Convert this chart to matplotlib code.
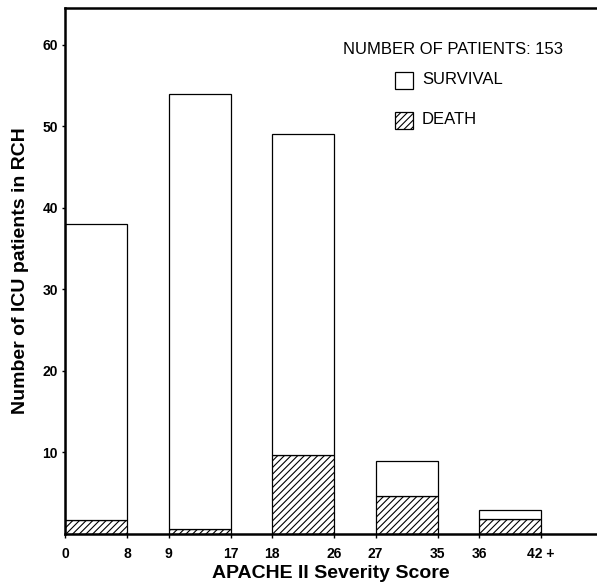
import matplotlib.pyplot as plt
import matplotlib.patches as mpatches

plt.rcParams['font.family'] = ['Liberation Sans', 'DejaVu Sans']
plt.rcParams['hatch.linewidth'] = 0.8

# Data
score_bins = ['0-8', '9-17', '18-26', '27-35', '36-42+']
edge_labels = ['0', '8', '9', '17', '18', '26', '27', '35', '36', '42 +']
total = [38, 54, 49, 9, 3]
death = [1.7, 0.6, 9.7, 4.7, 1.8]
survival = [t - d for t, d in zip(total, death)]
y_ticks = [10, 20, 30, 40, 50, 60]

fig = plt.figure(figsize=(5.97, 5.86), dpi=100)
ax = fig.add_axes([65 / 597, 1 - 534 / 586, 1 - 65 / 597, (534 - 8) / 586])

x = list(range(len(score_bins)))
w = 0.6
ax.bar(x, death, width=w, color='white', edgecolor='black', hatch='/////', linewidth=0.9)
ax.bar(x, survival, width=w, bottom=death, color='white', edgecolor='black', linewidth=0.9)

ax.set_xlim(-0.3, -0.3 + 532 / 103.5)
ax.set_ylim(0, 64.5)

# ticks at the edges of each bar
edges = []
for i in x:
    edges += [i - w / 2, i + w / 2]
ax.set_xticks(edges)
ax.set_xticklabels(edge_labels, fontsize=10, fontweight='bold')
ax.set_yticks(y_ticks)
ax.set_yticklabels([str(v) for v in y_ticks], fontsize=10, fontweight='bold')
ax.tick_params(axis='x', length=3, width=1, pad=6)
ax.tick_params(axis='y', length=2, width=1, pad=3)

for s in ['left', 'bottom', 'top']:
    ax.spines[s].set_linewidth(1.8)
ax.spines['right'].set_visible(False)

ax.set_xlabel('APACHE II Severity Score', fontsize=14, fontweight='bold', labelpad=3)
ax.set_ylabel('Number of ICU patients in RCH', fontsize=14, fontweight='bold', labelpad=10)

# legend block
fig.text(453 / 597, 1 - 50 / 586, 'NUMBER OF PATIENTS: 153', fontsize=12,
         ha='center', va='center')
box_w, box_h = 18 / 597, 17 / 586
fig.patches.append(mpatches.Rectangle((395 / 597, 1 - 89 / 586), box_w, box_h,
                                      transform=fig.transFigure, facecolor='white',
                                      edgecolor='black', linewidth=0.9))
fig.patches.append(mpatches.Rectangle((395 / 597, 1 - 129 / 586), box_w, box_h,
                                      transform=fig.transFigure, facecolor='white',
                                      edgecolor='black', hatch='/////', linewidth=0.9))
fig.text(422 / 597, 1 - 80 / 586, 'SURVIVAL', fontsize=12, ha='left', va='center')
fig.text(422 / 597, 1 - 120 / 586, 'DEATH', fontsize=12, ha='left', va='center')

fig.savefig('out.png', dpi=100)
